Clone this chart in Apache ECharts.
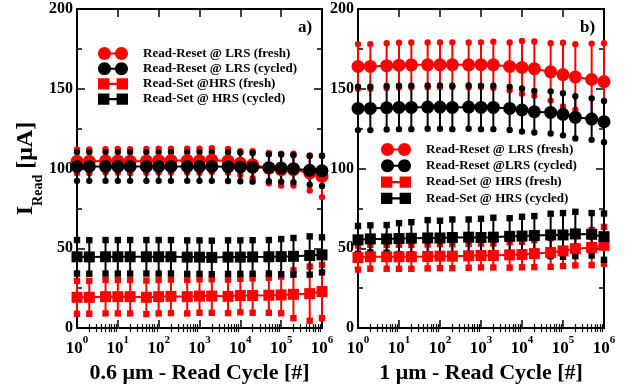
<!DOCTYPE html>
<html>
<head>
<meta charset="utf-8">
<script src="https://cdn.jsdelivr.net/npm/echarts@6/dist/echarts.min.js"></script>
<style>html,body{margin:0;padding:0;background:#fff;}#c{width:634px;height:389px;}</style>
</head>
<body>
<div id="c"></div>
<script>
// ---------- data ----------
const xCycles = [1,2,5,10,20,50,100,200,500,1000,2000,5000,10000,20000,50000,100000,200000,500000,1000000];
const yTicks = [0,50,100,150,200];
const minorCycleTicks = [2,3,4,5,6,7,8,9,20,30,40,50,60,70,80,90,200,300,400,500,600,700,800,900,
  2000,3000,4000,5000,6000,7000,8000,9000,20000,30000,40000,50000,60000,70000,80000,90000,
  200000,300000,400000,500000,600000,700000,800000,900000];

// panel a) 0.6 um
const aResetLrsFresh     = [104.5,104.5,104.8,104.8,104.6,104.8,105,105,105,104.9,105.3,104.8,103.4,102.4,100.3,99.3,99.3,97.2,95.1];
const aResetLrsFreshErr  = [7.5,7.5,7.3,7.5,7.5,7.5,7.5,7.5,7.5,7.5,7.5,7.5,7.5,8.5,9.5,10,10,11,13];
const aResetLrsCycled    = [101.3,101.3,101.3,101.3,101.3,101.3,101.3,101.3,101.3,101.3,101.3,101.2,101,100.8,100.5,100.3,99.9,98.9,98.6];
const aResetLrsCycledErr = [9,9,9,9,9,9,9,9,9,9,9,9,9,9,8.5,8.5,8.5,9,9.5];
const aSetHrsFresh       = [19.3,19.3,19.7,19.7,19.7,19.3,19.7,19.9,19.7,20.1,20.1,19.9,20.4,20.4,20.6,20.8,21.2,21.6,22.9];
const aSetHrsFreshErr    = [10.3,10.3,10.5,10.5,10.5,10.5,10.5,10.5,10.5,10.5,10.5,10.5,10.5,10.8,11,11.5,15,17,16.7];
const aSetHrsCycled      = [44.7,44.6,44.7,44.7,44.7,44.7,44.7,44.7,44.5,44.5,44.3,44.5,44.5,44.6,44.7,44.8,45,45.5,45.9];
const aSetHrsCycledErr   = [10.5,10.5,10.5,10.5,10.5,10.5,10.5,10.5,10.5,10.5,10.5,10.5,10.5,10.5,10.5,11,11.5,12,11];

// panel b) 1 um
const bResetLrsFresh     = [164,164,164.5,164.8,165,165,165,165.1,165,165.1,165,164,163.4,162.6,160.6,158.9,157.4,155.8,154.5];
const bResetLrsFreshErr  = [14,14,14,14,14,14,14,14,14,14,14.5,15,16.5,17,18,20,20.5,22.5,24];
const bResetLrsCycled    = [137.7,137.7,138.1,138.3,138.3,138.5,138.5,138.3,138.5,138.3,138.3,137.7,136.7,135.6,135.2,134,132.1,131,129.4];
const bResetLrsCycledErr = [13.6,13.6,13.6,13.6,13.6,13.6,13.6,13.6,13.6,13.6,13.6,13.5,13.5,13,13.2,13.2,13.2,13,12.9];
const bSetHrsFresh       = [44.2,44.7,44.7,44.7,44.7,44.9,45.1,45.1,45.3,45.5,45.5,45.9,46.1,46.7,47.4,48.4,49.8,50.5,51.9];
const bSetHrsFreshErr    = [7.5,7.5,7.5,7.5,7.5,7.5,7.5,7.5,7.5,7.5,7.5,8,8,8.5,9,9.5,10.5,11,11.5];
const bSetHrsCycled      = [55.3,55.9,55.9,56.1,56.3,56.5,56.5,56.8,57,56.8,57,57.5,57.7,58,58.4,58.4,59,58.8,57.3];
const bSetHrsCycledErr   = [8.7,8.5,8.7,9.7,10.1,11.2,10.8,11.3,11.1,11.7,12.2,11.4,12.1,12.2,13.3,13.7,13.9,13.3,14.5];

// ---------- helpers ----------
const FONT = '"Liberation Serif", "DejaVu Serif", serif';
const RED = '#ff0000', BLACK = '#000000';

function pairs(vals){ return xCycles.map((x,i)=>[x, vals[i]]); }
function triples(vals, errs){ return xCycles.map((x,i)=>[x, vals[i], errs[i]]); }

function errRender(capShape){
  return function(params, api){
    const x = api.value(0), y = api.value(1), e = api.value(2);
    const lo = api.coord([x, y - e]);
    const hi = api.coord([x, y + e]);
    const color = api.visual('color');
    const cap = (p) => capShape === 'circle'
      ? {type:'circle', shape:{cx:p[0], cy:p[1], r:3.2}, style:{fill:color}}
      : {type:'rect', shape:{x:p[0]-3.2, y:p[1]-3.2, width:6.4, height:6.4}, style:{fill:color}};
    return {type:'group', children:[
      {type:'line', shape:{x1:lo[0], y1:lo[1], x2:hi[0], y2:hi[1]}, style:{stroke:color, lineWidth:2}},
      cap(lo), cap(hi)
    ]};
  };
}

function errSeries(gi, vals, errs, color, shape){
  return {type:'custom', xAxisIndex: gi*4, yAxisIndex: gi*2, renderItem: errRender(shape),
    data: triples(vals, errs), itemStyle:{color}, encode:{x:0, y:1}, z:2, clip:false, silent:true};
}
function lineSeries(gi, name, vals, color, shape){
  return {type:'line', name, xAxisIndex: gi*4, yAxisIndex: gi*2, data: pairs(vals),
    symbol: shape === 'circle' ? 'circle' : 'rect', symbolSize: shape === 'circle' ? 13 : 11,
    itemStyle:{color}, lineStyle:{color, width:2}, z:3, clip:false, silent:true};
}

const labelRich = {
  b:{fontSize:17, fontWeight:'bold', fontFamily:FONT, color:'#000', lineHeight:22, verticalAlign:'bottom'},
  s:{fontSize:11, fontWeight:'bold', fontFamily:FONT, color:'#000', lineHeight:11, verticalAlign:'top'}
};
function expLabel(v){ return '{b|10}{s|' + Math.round(Math.log10(v)) + '}'; }

function xAxesFor(gi, nameText){
  const base = {type:'log', logBase:10, gridIndex:gi, min:1, max:1e6, splitNumber:6, splitLine:{show:false}, minorTick:{show:false}};
  return [
    Object.assign({}, base, {position:'bottom',
      axisLine:{show:true, onZero:false, lineStyle:{color:'#000', width:2}},
      axisTick:{show:true, inside:true, length:8, lineStyle:{color:'#000', width:1.5}},
      axisLabel:{formatter: expLabel, rich: labelRich, margin:7, showMinLabel:true, showMaxLabel:true},
      name: nameText, nameLocation:'middle', nameGap:26,
      nameTextStyle:{fontSize:22, fontWeight:'bold', fontFamily:FONT, color:'#000'}}),
    Object.assign({}, base, {position:'bottom', axisLine:{show:false},
      axisTick:{show:true, inside:true, length:4, customValues:minorCycleTicks, lineStyle:{color:'#000', width:1.2}},
      axisLabel:{show:false}}),
    Object.assign({}, base, {position:'top',
      axisLine:{show:true, onZero:false, lineStyle:{color:'#000', width:2}},
      axisTick:{show:true, inside:true, length:8, lineStyle:{color:'#000', width:1.5}},
      axisLabel:{show:false}}),
    Object.assign({}, base, {position:'top', axisLine:{show:false},
      axisTick:{show:true, inside:true, length:4, customValues:minorCycleTicks, lineStyle:{color:'#000', width:1.2}},
      axisLabel:{show:false}})
  ];
}
function yAxesFor(gi, withName){
  const base = {type:'value', gridIndex:gi, min:yTicks[0], max:yTicks[yTicks.length-1], interval:50, splitLine:{show:false},
    axisLine:{show:true, onZero:false, lineStyle:{color:'#000', width:2}},
    axisTick:{show:true, inside:true, length:8, lineStyle:{color:'#000', width:1.5}},
    minorTick:{show:true, splitNumber:2, length:5, lineStyle:{color:'#000', width:1.5}}};
  const left = Object.assign({}, base, {position:'left',
    axisLabel:{fontSize:16, fontWeight:'bold', fontFamily:FONT, color:'#000', margin:4}});
  if (withName){
    left.name = '{a|I}{b|Read}{a| [μA]}';
    left.nameLocation = 'middle';
    left.nameGap = 30;
    left.nameTextStyle = {rich:{
      a:{fontSize:24, fontWeight:'bold', fontFamily:FONT, color:'#000', lineHeight:25, verticalAlign:'top'},
      b:{fontSize:14, fontWeight:'bold', fontFamily:FONT, color:'#000', lineHeight:14, padding:[17,0,0,0], verticalAlign:'top'}
    }};
  }
  const right = Object.assign({}, base, {position:'right', axisLabel:{show:false}});
  return [left, right];
}

// legend icons (all sub-paths clockwise so nonzero fill gives solid shapes)
function circ(cx, cy, r){
  const k = 0.5523 * r;
  return 'M' + (cx-r) + ',' + cy +
    'C' + (cx-r) + ',' + (cy-k) + ' ' + (cx-k) + ',' + (cy-r) + ' ' + cx + ',' + (cy-r) +
    'C' + (cx+k) + ',' + (cy-r) + ' ' + (cx+r) + ',' + (cy-k) + ' ' + (cx+r) + ',' + cy +
    'C' + (cx+r) + ',' + (cy+k) + ' ' + (cx+k) + ',' + (cy+r) + ' ' + cx + ',' + (cy+r) +
    'C' + (cx-k) + ',' + (cy+r) + ' ' + (cx-r) + ',' + (cy+k) + ' ' + (cx-r) + ',' + cy + 'Z';
}
const iconCircles = 'path://' + circ(6.5, 6.5, 6.5) + 'M6.5,5.5L23.5,5.5L23.5,7.5L6.5,7.5Z' + circ(23.5, 6.5, 6.5);
const iconSquares = 'path://M0.5,1L11.5,1L11.5,12L0.5,12ZM6,5.5L24,5.5L24,7.5L6,7.5ZM18.5,1L29.5,1L29.5,12L18.5,12Z';

const aNames = ['Read-Reset @ LRS (fresh)','Read-Reset @ LRS (cycled)','Read-Set @HRS (fresh)','Read-Set @ HRS (cycled)'];
const bNames = ['Read-Reset @ LRS (fresh)\u200B','Read-Reset @LRS (cycled)','Read-Set @ HRS (fresh)','Read-Set @ HRS (cycled)\u200B'];

function legendFor(names, left, top, gap){
  return {left, top, orient:'vertical', itemWidth:30, itemHeight:13, itemGap:gap, selectedMode:false,
    textStyle:{fontSize:13, fontWeight:'bold', fontFamily:FONT, color:'#000', padding:[0,0,0,10]},
    data: names.map((n,i)=>({name:n, icon: i<2 ? iconCircles : iconSquares}))};
}

const option = {
  animation:false,
  backgroundColor:'#fff',
  textStyle:{fontFamily:FONT},
  grid:[{left:77, top:9, width:245, height:322}, {left:358, top:9, width:246, height:322}],
  xAxis: xAxesFor(0, '0.6 μm - Read Cycle [#]').concat(xAxesFor(1, '1 μm - Read Cycle [#]')),
  yAxis: yAxesFor(0, true).concat(yAxesFor(1, false)),
  legend:[legendFor(aNames, 93, 42, 2.2), legendFor(bNames, 376, 138, 3.3)],
  graphic:[
    {type:'text', left:298, top:19, style:{text:'a)', font:'bold 17px ' + FONT, fill:'#000'}},
    {type:'text', left:580, top:19, style:{text:'b)', font:'bold 17px ' + FONT, fill:'#000'}}
  ],
  series:[
    errSeries(0, aResetLrsFresh, aResetLrsFreshErr, RED, 'circle'),
    errSeries(0, aResetLrsCycled, aResetLrsCycledErr, BLACK, 'circle'),
    errSeries(0, aSetHrsFresh, aSetHrsFreshErr, RED, 'rect'),
    errSeries(0, aSetHrsCycled, aSetHrsCycledErr, BLACK, 'rect'),
    lineSeries(0, aNames[0], aResetLrsFresh, RED, 'circle'),
    lineSeries(0, aNames[1], aResetLrsCycled, BLACK, 'circle'),
    lineSeries(0, aNames[2], aSetHrsFresh, RED, 'rect'),
    lineSeries(0, aNames[3], aSetHrsCycled, BLACK, 'rect'),
    errSeries(1, bResetLrsFresh, bResetLrsFreshErr, RED, 'circle'),
    errSeries(1, bResetLrsCycled, bResetLrsCycledErr, BLACK, 'circle'),
    errSeries(1, bSetHrsFresh, bSetHrsFreshErr, RED, 'rect'),
    errSeries(1, bSetHrsCycled, bSetHrsCycledErr, BLACK, 'rect'),
    lineSeries(1, bNames[0], bResetLrsFresh, RED, 'circle'),
    lineSeries(1, bNames[1], bResetLrsCycled, BLACK, 'circle'),
    lineSeries(1, bNames[2], bSetHrsFresh, RED, 'rect'),
    lineSeries(1, bNames[3], bSetHrsCycled, BLACK, 'rect')
  ]
};
const chart = echarts.init(document.getElementById('c'), null, {renderer:'canvas'});
chart.setOption(option);
</script>
</body>
</html>
